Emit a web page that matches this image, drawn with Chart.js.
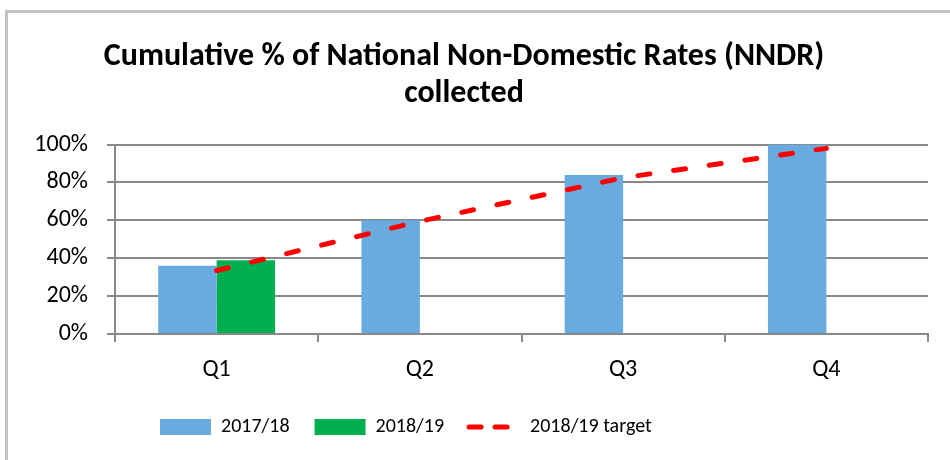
<!DOCTYPE html>
<html>
<head>
<meta charset="utf-8">
<title>NNDR collected</title>
<script src="https://cdn.jsdelivr.net/npm/chart.js@4"></script>
<style>
    * {
        margin: 0;
        padding: 0;
        box-sizing: border-box;
    }

    body {
        background-color: #ffffff;
        width: 950px;
        height: 460px;
        overflow: hidden;
    }

    .frame {
        position: absolute;
        left: 5px;
        top: 10px;
        width: 1000px;
        height: 600px;
        border: 3px solid #c3c3c3;
    }

    .chart-container {
        position: absolute;
        left: 0;
        top: 0;
        width: 950px;
        height: 460px;
    }
</style>
</head>
<body>
<div class="frame"></div>
<div class="chart-container">
    <canvas id="nndrChart"></canvas>
</div>

<script>
    // quarters and cumulative % collected
    const quarters = ['Q1', 'Q2', 'Q3', 'Q4'];
    const collected1718 = [36, 60, 84, 100];
    const collected1819 = [39, null, null, null];
    const target1819 = [33.5, 59.5, 82.5, 98];
    const percentTicks = [0, 20, 40, 60, 80, 100];

    const FONT = "Carlito, 'Liberation Sans Narrow', 'Arial Narrow', sans-serif";
    const GRID = '#898989';

    Chart.defaults.font.family = FONT;
    Chart.defaults.color = '#000000';

    // legend sits a bit left of centre, starting under Q1
    const legendShift = {
        id: 'legendShift',
        afterLayout(chart) {
            chart.legend.left = 135;
        }
    };

    const ctx = document.getElementById('nndrChart').getContext('2d');

    const nndrChart = new Chart(ctx, {
        type: 'bar',
        data: {
            labels: quarters,
            datasets: [
                {
                    label: '2017/18',
                    data: collected1718,
                    backgroundColor: '#69aadf',
                    borderWidth: 0,
                    categoryPercentage: 0.575,
                    barPercentage: 1,
                    order: 1
                },
                {
                    label: '2018/19',
                    data: collected1819,
                    backgroundColor: '#00b050',
                    borderWidth: 0,
                    categoryPercentage: 0.575,
                    barPercentage: 1,
                    order: 1
                },
                {
                    type: 'line',
                    label: '2018/19 target',
                    data: target1819,
                    borderColor: '#ff0000',
                    backgroundColor: '#ff0000',
                    borderWidth: 5,
                    borderDash: [12, 24],
                    borderCapStyle: 'round',
                    pointRadius: 0,
                    fill: false,
                    tension: 0,
                    order: 0
                }
            ]
        },
        plugins: [legendShift],
        options: {
            responsive: true,
            maintainAspectRatio: false,
            animation: false,
            layout: {
                padding: { left: 0, right: 22, top: 0, bottom: 13 }
            },
            scales: {
                x: {
                    grid: {
                        drawOnChartArea: false,
                        drawTicks: true,
                        tickLength: 8,
                        color: GRID,
                        lineWidth: 2
                    },
                    border: { color: GRID, width: 2 },
                    ticks: {
                        font: { size: 24 },
                        padding: 14
                    },
                    afterFit: function (scale) {
                        scale.height = 58;
                    }
                },
                y: {
                    min: 0,
                    max: 100,
                    afterBuildTicks: function (scale) {
                        scale.ticks = percentTicks.map(v => ({ value: v }));
                    },
                    grid: {
                        color: GRID,
                        lineWidth: 2,
                        tickLength: 8
                    },
                    border: { color: GRID, width: 2 },
                    ticks: {
                        font: { size: 24 },
                        padding: 19,
                        callback: v => v + '%'
                    },
                    afterFit: function (scale) {
                        scale.width = 115;
                    }
                }
            },
            plugins: {
                title: {
                    display: true,
                    text: ['Cumulative % of National Non-Domestic Rates (NNDR)', 'collected'],
                    color: '#000000',
                    font: { size: 32, weight: 'bold', lineHeight: 1.15 },
                    padding: { top: 39, bottom: 32 }
                },
                legend: {
                    position: 'bottom',
                    align: 'start',
                    labels: {
                        usePointStyle: true,
                        pointStyleWidth: 51,
                        boxHeight: 16,
                        padding: 25,
                        font: { size: 20 },
                        sort: (a, b) => a.datasetIndex - b.datasetIndex,
                        generateLabels: function (chart) {
                            const items = Chart.defaults.plugins.legend.labels.generateLabels(chart);
                            items.forEach(item => {
                                if (item.datasetIndex === 2) {
                                    item.pointStyle = 'line';
                                    item.lineWidth = 5;
                                    item.lineDash = [12, 14];
                                    item.lineCap = 'round';
                                    item.strokeStyle = '#ff0000';
                                } else {
                                    item.pointStyle = 'rect';
                                    item.lineWidth = 0;
                                }
                            });
                            return items;
                        }
                    }
                },
                tooltip: { enabled: false }
            }
        }
    });
</script>
</body>
</html>
